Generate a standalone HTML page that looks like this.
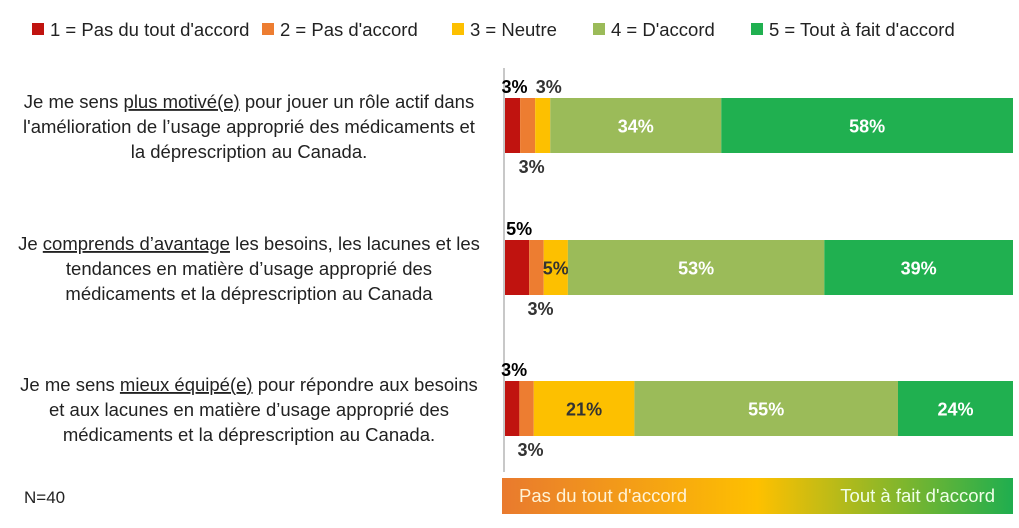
<!DOCTYPE html>
<html><head><meta charset="utf-8"><style>
body{margin:0;background:#fff;font-family:"Liberation Sans",Arial,sans-serif;}
svg text{font-family:"Liberation Sans",Arial,sans-serif;}
</style></head><body>
<svg width="1019" height="523" viewBox="0 0 1019 523" xmlns="http://www.w3.org/2000/svg">
<defs><linearGradient id="g" x1="0" x2="1"><stop offset="0" stop-color="#e97a2e"/><stop offset="0.5" stop-color="#fec000"/><stop offset="1" stop-color="#1fae4f"/></linearGradient></defs>
<g id="legend"></g>
<g id="cats"></g>
<line x1="504" y1="68" x2="504" y2="472" stroke="#c8c8c8" stroke-width="2"/>
<g id="bars"></g>
<text x="24" y="503" font-size="17" fill="#222">N=40</text>
<rect x="502" y="478" width="511" height="36" fill="url(#g)"/>
<text x="519" y="502" font-size="18.5" fill="#fff3d6">Pas du tout d'accord</text>
<text x="995" y="502" font-size="18.5" fill="#f0ffe8" text-anchor="end">Tout à fait d'accord</text>
</svg>
<script>
const seriesNames=["1 = Pas du tout d'accord","2 = Pas d'accord","3 = Neutre","4 = D'accord","5 = Tout à fait d'accord"];
const colors=["#c0130f","#ed7d31","#fdc000","#9bbb59","#20b050"];
const s1=[3,3,3,34,58];
const s2=[5,3,5,53,39];
const s3=[3,3,21,55,24];
const NS="http://www.w3.org/2000/svg";
function mk(t,a,p){const e=document.createElementNS(NS,t);for(const k in a)e.setAttribute(k,a[k]);p.appendChild(e);return e;}
const lg=document.getElementById('legend');
const lx=[32,262,452,593,751];
seriesNames.forEach((n,i)=>{
 const r=mk('rect',{x:lx[i],y:23,width:12,height:12,fill:colors[i]},lg);
 
 
 const t=mk('text',{x:lx[i]+18,y:36,'font-size':18.5,fill:'#222'},lg);t.textContent=n;
 
 
});
const cg=document.getElementById('cats');
const catLines=[
 [["Je me sens ",["plus motivé(e)"]," pour jouer un rôle actif dans"],["l'amélioration de l’usage approprié des médicaments et"],["la déprescription au Canada."]],
 [["Je ",["comprends d’avantage"]," les besoins, les lacunes et les"],["tendances en matière d’usage approprié des"],["médicaments et la déprescription au Canada"]],
 [["Je me sens ",["mieux équipé(e)"]," pour répondre aux besoins"],["et aux lacunes en matière d’usage approprié des"],["médicaments et la déprescription au Canada."]]
];
const data=[s1,s2,s3];
const barY=[98,240,381],barH=55,x0=505,W=508;
catLines.forEach((lines,ci)=>{
 lines.forEach((ln,li)=>{
  const t=mk('text',{x:249,y:barY[ci]+10+li*25,'font-size':18.5,fill:'#222','text-anchor':'middle'},cg);
  
  
  ln.forEach(p=>{const sp=mk('tspan',{},t);if(Array.isArray(p)){sp.textContent=p[0];sp.setAttribute('text-decoration','underline');}else sp.textContent=p;});
 });
});
const bg=document.getElementById('bars');
data.forEach((vals,bi)=>{
 const tot=vals.reduce((a,b)=>a+b,0);const sc=W/tot;let x=x0;const y=barY[bi];
 vals.forEach((v,i)=>{
  const w=v*sc;
  const r=mk('rect',{x:x,y:y,width:w,height:barH,fill:colors[i]},bg);
  
  
  let tx=x+w/2,ty=y+barH/2+7,fill='#fff';
  if(i===0&&v<=6){ty=y-5;fill='#000';tx=x+w/2+2;}
  else if(i===1&&v<=6){ty=y+barH+20;fill='#333';tx=x+w/2+4;}
  else if(i===2&&w<20){ty=y-5;fill='#333';tx=x+w/2+6;}
  else if(i===2){fill='#333';}
  const t=mk('text',{x:tx,y:ty,'font-size':18,'font-weight':'bold',fill:fill,'text-anchor':'middle'},bg);
  t.textContent=v+'%';
  
  
  x+=w;
 });
});
</script>
</body></html>
